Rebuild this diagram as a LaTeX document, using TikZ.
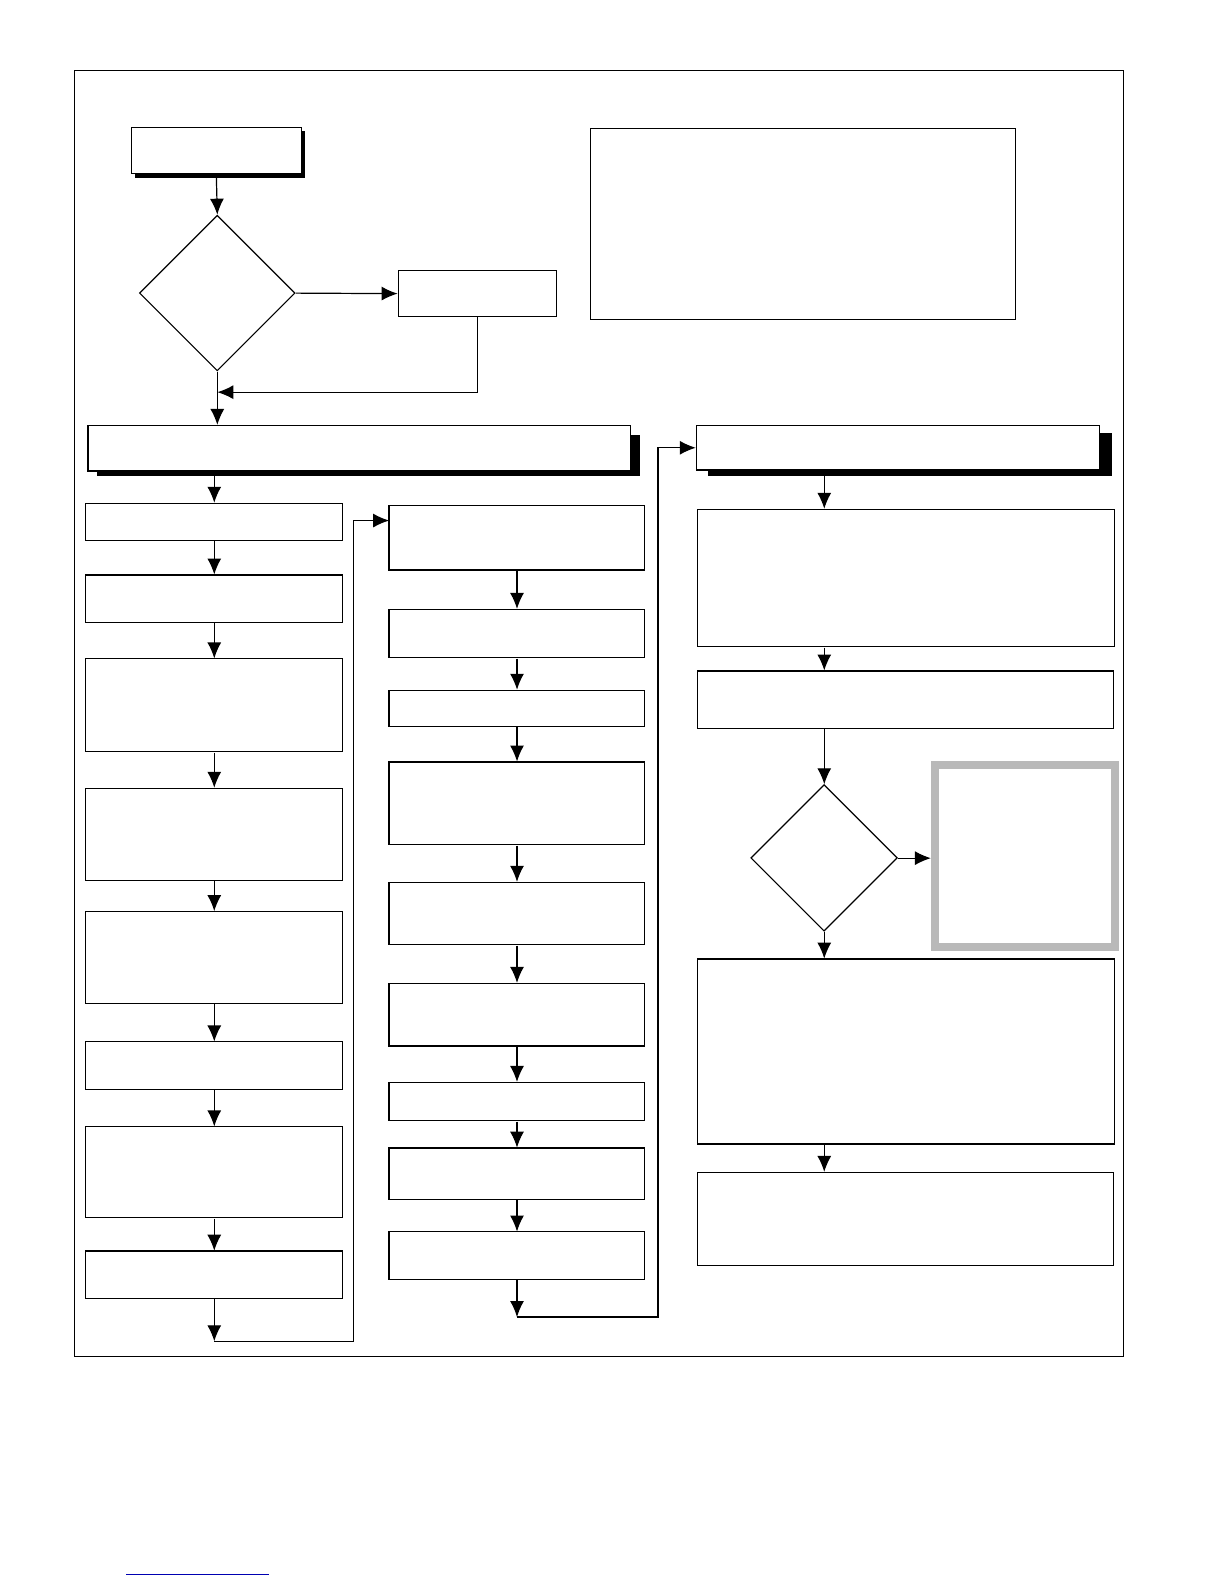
\documentclass[tikz,border=0pt]{standalone}
\usetikzlibrary{arrows.meta,shapes.geometric}

\begin{document}
\begin{tikzpicture}[x=1pt,y=-1pt,scale=1.0105,every node/.style={transform shape},
  box/.style={rectangle,draw,line width=1.2pt,inner sep=0pt,fill=white},
  dia/.style={diamond,draw,line width=1.2pt,inner sep=0pt,aspect=1,minimum size=#1},
  arr/.style={-{Latex[length=16pt,width=14pt]},line width=1.2pt}]

  \useasboundingbox (0,0) rectangle (1211.3,1567.5);
  \draw[line width=1pt] (74,70) rectangle (1112,1342);

  % shadows of the three heading boxes
  \fill (134,130) rectangle (302,176);
  \fill (96,430) rectangle (633,471);
  \fill (701,428) rectangle (1100,471);

  % top part
  \node[box, minimum width=168, minimum height=46] (start) at (214,149) {};
  \node[dia=154] (ask) at (215,290) {};
  \node[box, minimum width=157, minimum height=45] (side) at (472.5,290.5) {};
  \node[box, minimum width=421, minimum height=189] (note) at (794.5,221.5) {};
  \node[box, minimum width=537, minimum height=45] (phaseA) at (355.5,443.5) {};
  \node[box, minimum width=399, minimum height=44] (phaseB) at (888.5,443) {};

  % left column
  \foreach \n/\y/\h in {1/516.5/37, 2/592.5/47, 3/698/92, 4/825.5/91,
                        5/947.5/91, 6/1054.5/47, 7/1160/90, 8/1261.5/47}
    \node[box, minimum width=254, minimum height=\h] (L\n) at (212,\y) {};

  % middle column
  \foreach \n/\y/\h in {1/532/64, 2/627/48, 3/701/36, 4/795/82, 5/904/62,
                        6/1004/62, 7/1090/38, 8/1161.5/51, 9/1242.5/47}
    \node[box, minimum width=253, minimum height=\h] (M\n) at (511.5,\y) {};

  % right column
  \node[box, minimum width=413, minimum height=136] (R1) at (896.5,572) {};
  \node[box, minimum width=412, minimum height=57] (R2) at (896,692.5) {};
  \node[dia=145] (check) at (815.5,849) {};
  \node[rectangle, draw=gray!55, line width=8pt, minimum width=178, minimum height=180] (hint) at (1014,847) {};
  \node[box, minimum width=413, minimum height=183] (R3) at (896.5,1040.5) {};
  \node[box, minimum width=412, minimum height=92] (R4) at (896,1206) {};

  \coordinate (join) at (216,388);
  \coordinate (lb) at (350,1327);
  \coordinate (m1in) at (385,515);
  \coordinate (mb) at (651,1303);

  % connectors
  \draw[arr] (start.south) -- (ask.north);
  \draw[arr] (ask.east) -- (side.west);
  \draw[arr] (side.south) |- (ask.south |- join);
  \draw[arr] (ask.south) -- (phaseA.north -| ask.south);
  \draw[arr] (phaseA.south -| L1.north) -- (L1.north);
  \foreach \a/\b in {1/2,2/3,3/4,4/5,5/6,6/7,7/8}
    \draw[arr] (L\a.south) -- (L\b.north);
  \draw[arr] (L8.south) -- (L8.south |- lb);
  \draw[arr] (L8.south |- lb) -- (lb) |- (m1in);
  \foreach \a/\b in {1/2,2/3,3/4,4/5,5/6,6/7,7/8,8/9}
    \draw[arr] (M\a.south) -- (M\b.north);
  \draw[arr] (M9.south) -- (M9.south |- mb);
  \draw[arr] (M9.south |- mb) -- (mb) |- (phaseB.west);
  \draw[arr] (phaseB.south -| check.north) -- (R1.north -| check.north);
  \draw[arr] (R1.south -| check.north) -- (R2.north -| check.north);
  \draw[arr] (R2.south -| check.north) -- (check.north);
  \draw[arr] (check.east) -- (check.east -| hint.west);
  \draw[arr] (check.south) -- (R3.north -| check.south);
  \draw[arr] (R3.south -| check.south) -- (R4.north -| check.south);

  \draw[blue!70!black, line width=0.8pt] (125,1558) -- (266,1558);
\end{tikzpicture}
\end{document}
